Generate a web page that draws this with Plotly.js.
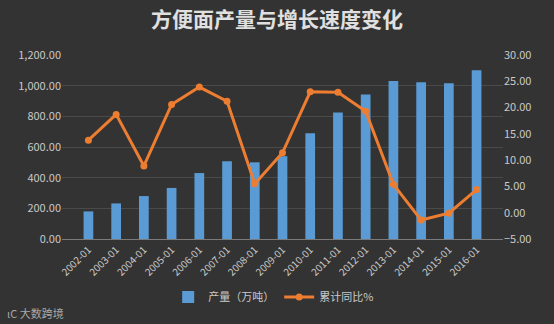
<!DOCTYPE html>
<html>
<head>
<meta charset="utf-8">
<script src="https://cdn.plot.ly/plotly-3.0.1.min.js"></script>
<style>
html,body{margin:0;padding:0;background:#333333;}
#chart{width:554px;height:324px;}
</style>
</head>
<body>
<div id="chart"></div>
<script>
const categories = ["2002-01","2003-01","2004-01","2005-01","2006-01","2007-01","2008-01","2009-01","2010-01","2011-01","2012-01","2013-01","2014-01","2015-01","2016-01"];
const output = [180, 232, 280, 333, 430, 507, 500, 540, 690, 825, 942, 1030, 1022, 1016, 1100];
const growth = [13.8, 18.7, 8.9, 20.6, 23.9, 21.2, 5.5, 11.4, 23.0, 22.9, 19.3, 5.4, -1.4, -0.1, 4.4];
const seriesNames = ["产量（万吨）", "累计同比%"];
const titleText = "方便面产量与增长速度变化";
const watermark = "大数跨境";

const font = "'Noto Sans CJK SC', 'Noto Sans', sans-serif";
const textColor = "#c9c9c9";

const traces = [
  {
    type: "bar", name: seriesNames[0], x: categories, y: output,
    marker: {color: "#5b9bd5"}, width: 0.35, yaxis: "y"
  },
  {
    type: "scatter", mode: "lines+markers", name: seriesNames[1], x: categories, y: growth,
    line: {color: "#ed7d31", width: 3}, marker: {color: "#ed7d31", size: 7},
    yaxis: "y2"
  }
];

const layout = {
  width: 554, height: 324,
  paper_bgcolor: "#333333", plot_bgcolor: "#333333",
  margin: {l: 62, r: 51, t: 55, b: 85},
  font: {family: font, color: textColor, size: 11},
  title: {text: titleText, x: 0.5, xanchor: "center", y: 0.94, yanchor: "middle",
          font: {family: font, size: 21, color: "#e0e0e0", weight: "bold"}},
  showlegend: true,
  legend: {orientation: "h", x: 0.48, xanchor: "center", y: -0.315, yanchor: "middle",
           font: {size: 11, color: textColor}, bgcolor: "rgba(0,0,0,0)", itemwidth: 30},
  xaxis: {type: "category", tickangle: -45, tickfont: {size: 10, color: textColor},
          showgrid: false, showline: true, linecolor: "#7a7a7a", linewidth: 1, ticks: ""},
  yaxis: {range: [0, 1200], dtick: 200, tickformat: ",.2f", gridcolor: "#4a4a4a",
          zeroline: false, tickfont: {size: 11, color: textColor}, ticks: ""},
  yaxis2: {range: [-5, 30], dtick: 5, tickformat: ".2f", overlaying: "y", side: "right",
           showgrid: false, zeroline: false, tickfont: {size: 11, color: textColor}, ticks: ""},
  annotations: [
    {text: "\u03b9C" + " " + watermark, xref: "paper", yref: "paper", x: -0.13, y: -0.4,
     xanchor: "left", yanchor: "middle", showarrow: false,
     font: {size: 11, color: "#a8a8a8"}}
  ]
};

Plotly.newPlot("chart", traces, layout, {displayModeBar: false});
</script>
</body>
</html>
